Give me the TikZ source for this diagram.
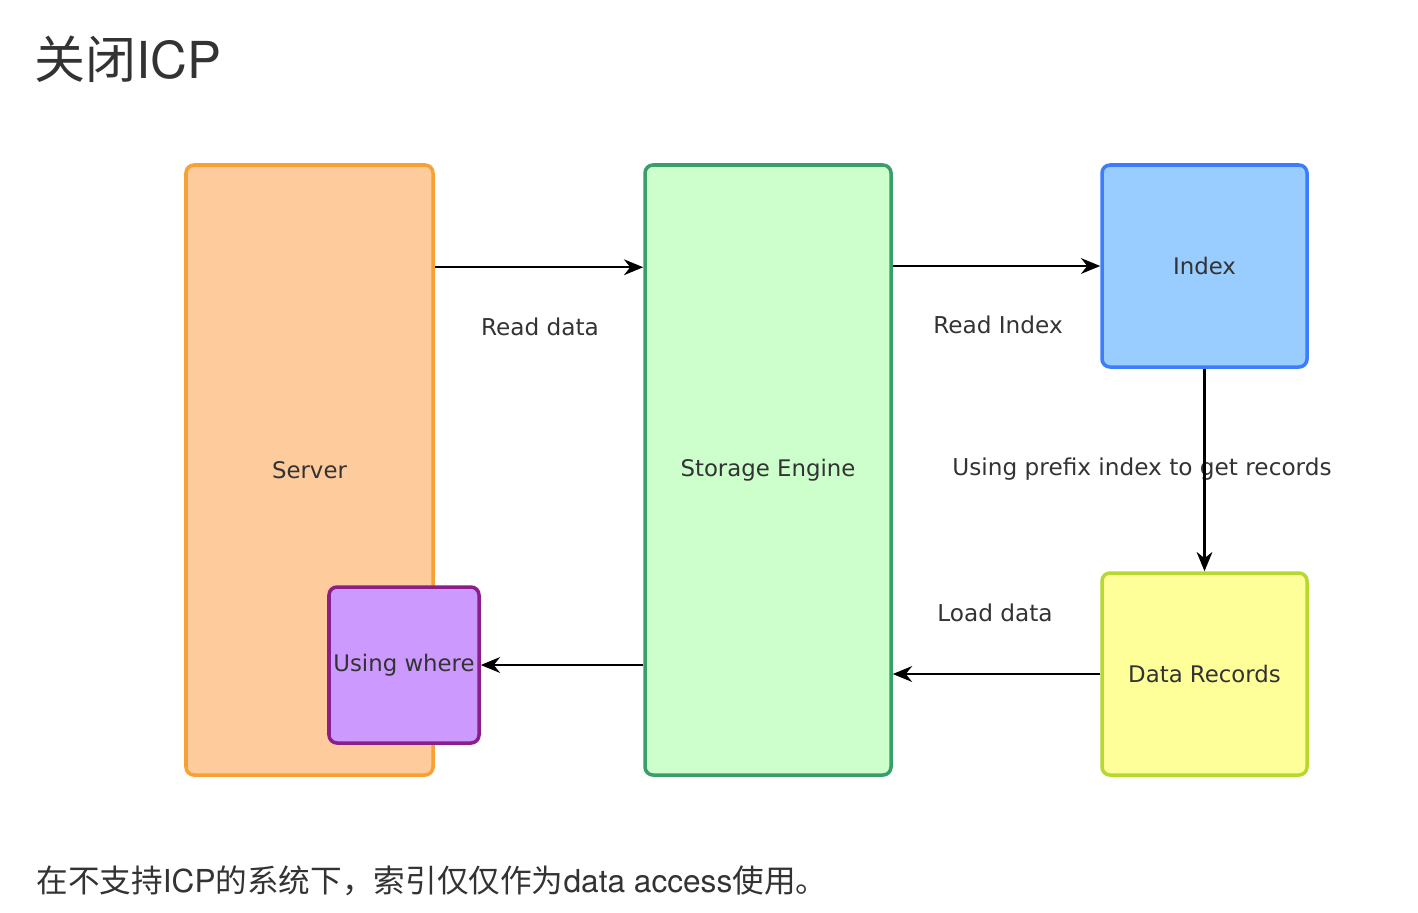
\documentclass[tikz,border=0pt]{standalone}
\usepackage{fontspec}
\usetikzlibrary{arrows.meta}
\setmainfont{DejaVu Sans}
\newfontfamily\cjk{Noto Sans CJK SC}
\newfontfamily\heros{TeX Gyre Heros}

\definecolor{srvfill}{HTML}{FDCB9C}
\definecolor{srvline}{HTML}{F7A033}
\definecolor{whrfill}{HTML}{CC99FF}
\definecolor{whrline}{HTML}{8B1E8B}
\definecolor{engfill}{HTML}{CCFFCC}
\definecolor{engline}{HTML}{3A9E6A}
\definecolor{idxfill}{HTML}{99CCFF}
\definecolor{idxline}{HTML}{3D7CFF}
\definecolor{recfill}{HTML}{FFFF99}
\definecolor{recline}{HTML}{B5D92E}
\definecolor{txt}{HTML}{333333}

\tikzset{
  box/.style={rounded corners=0.08cm, line width=1pt, inner sep=0pt,
    text=txt, font=\fontsize{6.5}{8}\selectfont},
  lbl/.style={text=txt, font=\fontsize{6.6}{8}\selectfont},
  arr/.style={-{Stealth[length=5.5pt, width=4.5pt, inset=1.8pt]}, line width=0.6pt}
}

\begin{document}
\begin{tikzpicture}
        \useasboundingbox (0, 0) rectangle (14.18, -9.12);

        \node[anchor=base west, text=txt, font=\fontsize{14.5}{16}\selectfont] (title) at (0.22, -0.78) {\cjk 关闭{\heros ICP}};

        \node[box, draw=srvline, fill=srvfill, minimum width=2.47cm, minimum height=6.1cm] (server) at (3.095, -4.7) {Server};
        \node[box, draw=whrline, fill=whrfill, minimum width=1.5cm, minimum height=1.56cm] (where) at (4.04, -6.65) {Using where};
        \node[box, draw=engline, fill=engfill, minimum width=2.46cm, minimum height=6.1cm] (engine) at (7.68, -4.7) {Storage Engine};
        \node[box, draw=idxline, fill=idxfill, minimum width=2.05cm, minimum height=2.02cm] (index) at (12.045, -2.66) {Index};
        \node[box, draw=recline, fill=recfill, minimum width=2.05cm, minimum height=2.02cm] (records) at (12.045, -6.74) {Data Records};

        \node[lbl] (readdata) at (5.4, -3.27) {Read data};
        \node[lbl] (readindex) at (9.98, -3.25) {Read Index};
        \node[lbl] (prefix) at (11.42, -4.69) {Using prefix index to get records};
        \node[lbl] (loaddata) at (9.95, -6.13) {Load data};

        \draw[arr] ([yshift=-1.04cm]server.north east) -- ([yshift=-1.04cm]engine.north west);
        \draw[arr] (engine.east |- index.west) -- (index.west);
        \draw[arr] (index.south) -- (records.north);
        \draw[arr] (records.west) -- (records.west -| engine.east);
        \draw[arr] (where.east -| engine.west) -- (where.east);

        \node[anchor=base west, text=txt, font=\fontsize{9}{11}\selectfont] (note) at (0.24, -8.92)
          {\cjk 在不支持{\heros ICP}的系统下，索引仅仅作为{\heros data access}使用。};
\end{tikzpicture}
\end{document}
